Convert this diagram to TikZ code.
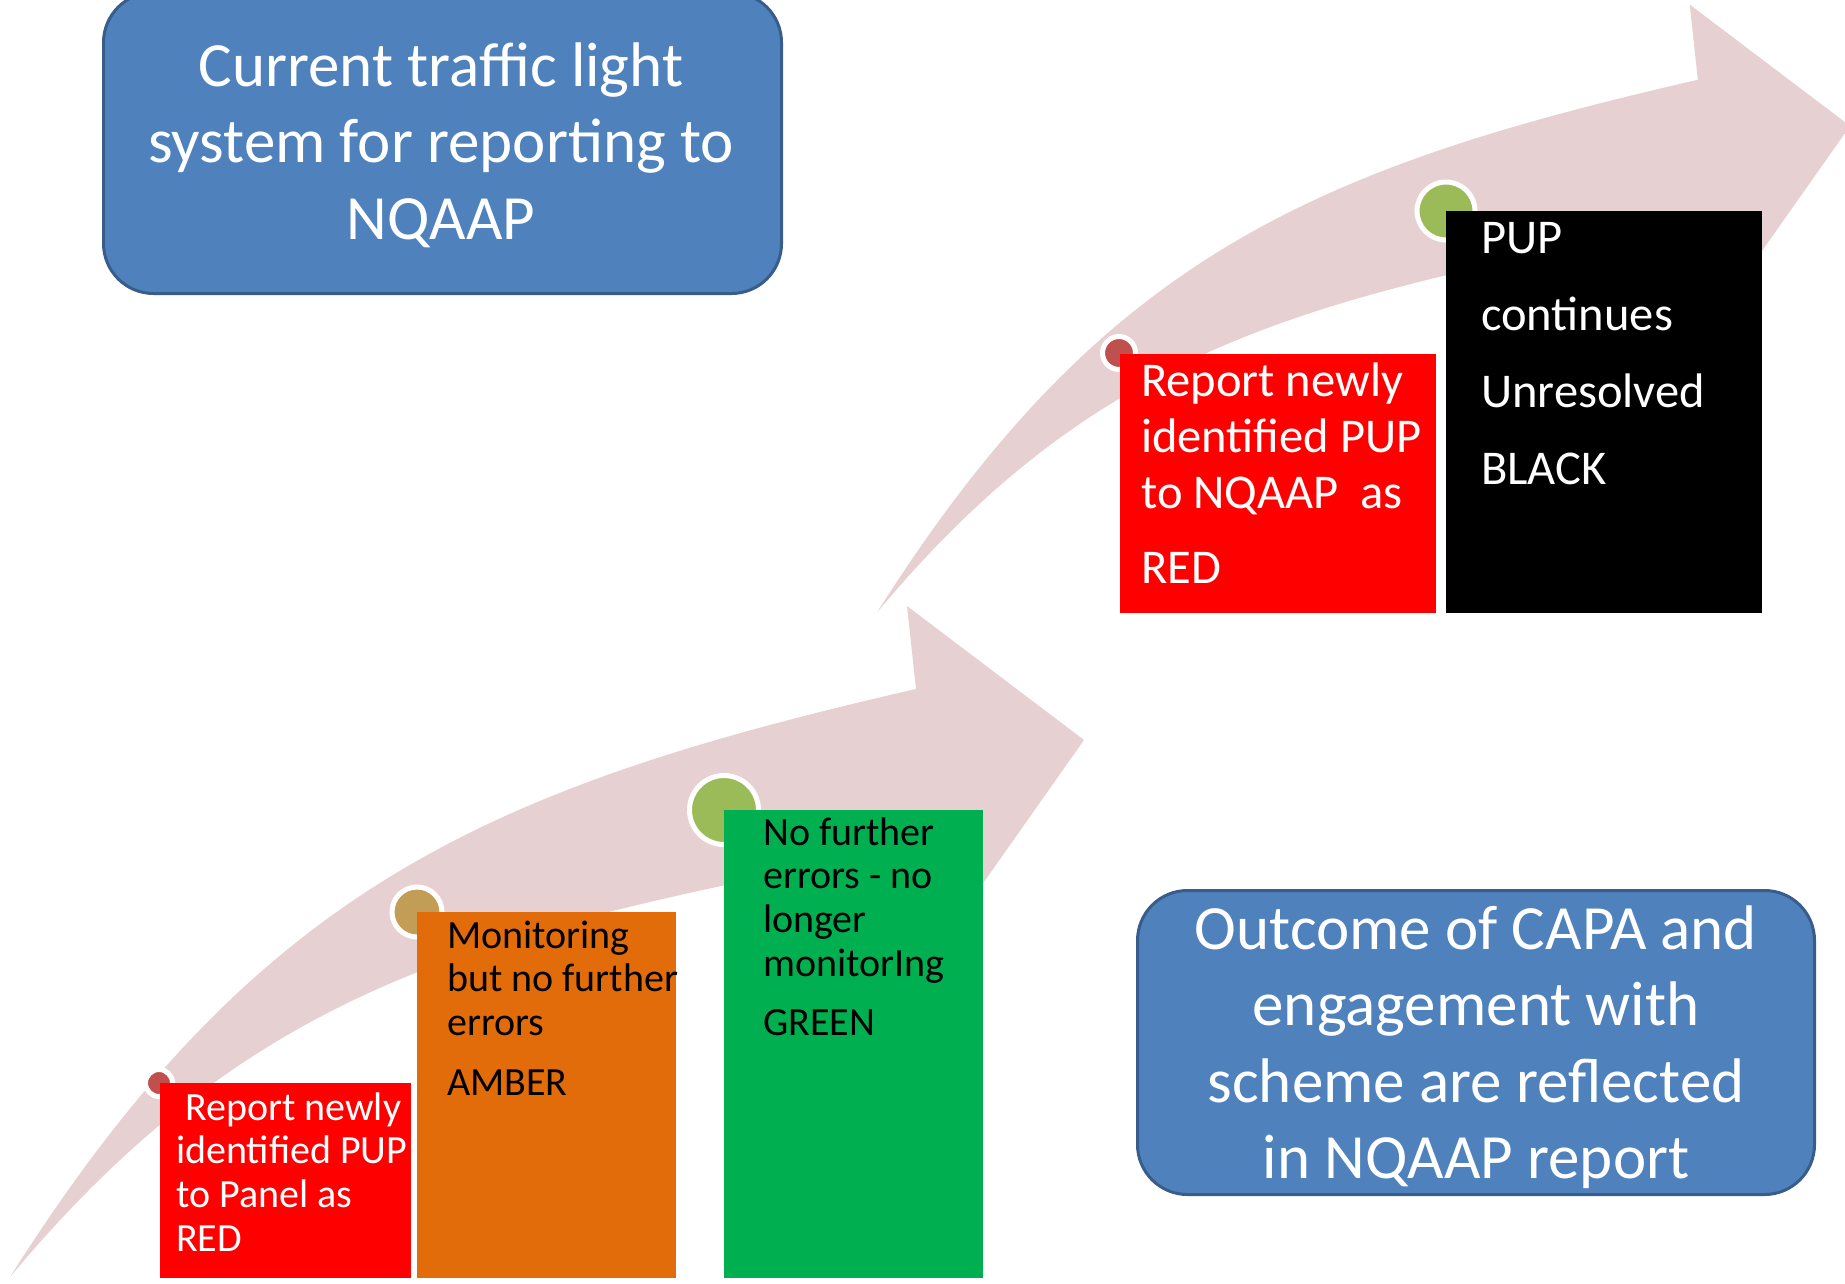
\documentclass[tikz,border=0pt]{standalone}
\usepackage{fontspec}
\setmainfont{Carlito}

\definecolor{arrowpink}{RGB}{231,208,209}
\definecolor{titleblue}{RGB}{79,129,189}
\definecolor{titleedge}{RGB}{56,93,138}
\definecolor{stepred}{RGB}{255,0,0}
\definecolor{stepamber}{RGB}{227,108,10}
\definecolor{stepgreen}{RGB}{0,176,80}
\definecolor{dotred}{RGB}{192,80,77}
\definecolor{dotamber}{RGB}{194,157,86}
\definecolor{dotgreen}{RGB}{155,187,89}

\tikzset{
  % curved arrow with a pointed tail at the local origin
  pics/risingarrow/.style={code={
    \fill[arrowpink] (0,0) .. controls (245,-387) and (474,-489) .. (906,-588)
      -- (897,-671) -- (1074,-537) -- (933,-337) -- (923,-434)
      .. controls (503,-350) and (260,-312) .. (0,0) -- cycle;
  }},
  stagebox/.style={rectangle, inner sep=0pt, outer sep=0pt, anchor=north west},
  dot/.style={circle, draw=white, line width=5pt, inner sep=0pt},
  steptext/.style={anchor=base west, inner sep=0pt},
  banner/.style={rectangle, rounded corners=50pt, fill=titleblue, draw=titleedge,
    line width=3pt, inner sep=0pt, anchor=north west},
  bannertext/.style={anchor=base, inner sep=0pt, text=white}
}

\newcommand{\smallstep}{\fontsize{40}{43.7}\selectfont}
\newcommand{\largestep}{\fontsize{48.5}{56}\selectfont}
\newcommand{\bannerfont}{\fontsize{63}{76.5}\selectfont}

\begin{document}
\begin{tikzpicture}[x=1pt,y=-1pt]
\useasboundingbox[fill=white] (0,0) rectangle (1845,1283);

% the two rising arrows
\pic at (10,1277) {risingarrow};
\pic[scale=0.906] at (877,612.5) {risingarrow};

% title banners
\node[banner, minimum width=678pt, minimum height=301pt] (title) at (102,-9) {};
\node[bannertext] (titletext) at (441,86) {\parbox[t]{670pt}{\centering\bannerfont
  Current traffic light\\system for reporting to\\NQAAP}};

\node[banner, minimum width=677pt, minimum height=304pt] (outcome) at (1136,889) {};
\node[bannertext] (outcometext) at (1476,949) {\parbox[t]{670pt}{\centering\bannerfont
  Outcome of CAPA and\\engagement with\\scheme are reflected\\in NQAAP report}};

% markers on the arrows
\node[dot, fill=dotred,   minimum size=27pt] (d1) at (159,1083) {};
\node[dot, fill=dotamber, minimum size=50pt] (d2) at (417,912) {};
\node[dot, fill=dotgreen, minimum size=69pt] (d3) at (724,810) {};
\node[dot, fill=dotred,   minimum size=33pt] (d4) at (1119,353) {};
\node[dot, fill=dotgreen, minimum size=58pt] (d5) at (1446,211) {};

% lower stage boxes
\node[stagebox, fill=stepred,   minimum width=251pt, minimum height=195pt] (s1) at (160,1083) {};
\node[stagebox, fill=stepamber, minimum width=259pt, minimum height=366pt] (s2) at (417,912) {};
\node[stagebox, fill=stepgreen, minimum width=259pt, minimum height=468pt] (s3) at (724,810) {};

\node[steptext, text=white] (s1text) at (176,1120) {\parbox[t]{400pt}{\raggedright\smallstep
  \hspace*{9pt}Report newly\\identified PUP\\to Panel as\\RED}};
\node[steptext, text=black] (s2text) at (447,948) {\parbox[t]{400pt}{\raggedright\smallstep
  Monitoring\\but no further\\errors\\[16pt]AMBER}};
\node[steptext, text=black] (s3text) at (763,845) {\parbox[t]{400pt}{\raggedright\smallstep
  No further\\errors - no\\longer\\monitorIng\\[16pt]GREEN}};

% upper stage boxes
\node[stagebox, fill=stepred, minimum width=316pt, minimum height=259pt] (s4) at (1120,354) {};
\node[stagebox, fill=black,   minimum width=316pt, minimum height=402pt] (s5) at (1446,211) {};

\node[steptext, text=white] (s4text) at (1141,396) {\parbox[t]{400pt}{\raggedright\largestep
  Report newly\\identified PUP\\to NQAAP\ \ as\\[19pt]RED}};
\node[steptext, text=white] (s5text) at (1481,253) {\parbox[t]{400pt}{\raggedright\fontsize{48.5}{77.3}\selectfont
  PUP\\continues\\Unresolved\\BLACK}};
\end{tikzpicture}
\end{document}
